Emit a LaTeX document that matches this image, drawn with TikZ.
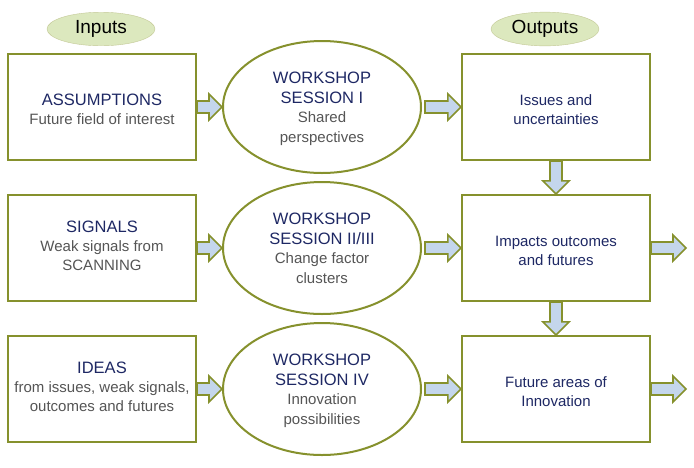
\documentclass[tikz,border=0pt]{standalone}
\usepackage{fontspec}
\setmainfont{Liberation Sans}
\usetikzlibrary{shapes.geometric,calc}
\definecolor{olv}{RGB}{134,145,45}
\definecolor{arr}{RGB}{196,214,236}
\definecolor{navy}{RGB}{30,40,100}
\definecolor{gtxt}{RGB}{85,85,85}
\definecolor{lgreen}{RGB}{220,232,190}
\tikzset{
 box/.style={draw=olv,line width=2.2pt,fill=white,minimum width=188pt,minimum height=106pt,align=center},
 ell/.style={draw=olv,line width=2pt,fill=white,ellipse,minimum width=198pt,minimum height=132pt,align=center,inner sep=0pt},
 lab/.style={ellipse,draw=olv!50,fill=lgreen,minimum width=108pt,minimum height=30pt,font=\fontsize{19}{21}\selectfont},
 fat/.style={draw=olv,line width=1.6pt,fill=arr,line join=miter}
}
\newcommand{\TT}[1]{{\fontsize{16.5}{19}\selectfont\color{navy}#1}}
\newcommand{\SB}[1]{{\fontsize{15}{19}\selectfont\color{gtxt}#1}}
\newcommand{\RT}[1]{{\fontsize{15}{19}\selectfont\color{navy}#1}}
\newcommand{\harr}[2]{%
 \path (#1) coordinate (s) (#2) coordinate (e);
 \draw[fat] ($(s)+(0,-6)$) -- ($(e)+(-13,-6)$) -- ($(e)+(-13,-13)$) -- (e) -- ($(e)+(-13,13)$) -- ($(e)+(-13,6)$) -- ($(s)+(0,6)$) -- cycle;}
\newcommand{\varr}[2]{%
 \path (#1) coordinate (s) (#2) coordinate (e);
 \draw[fat] ($(s)+(-6,0)$) -- ($(e)+(-6,-13)$) -- ($(e)+(-13,-13)$) -- (e) -- ($(e)+(13,-13)$) -- ($(e)+(6,-13)$) -- ($(s)+(6,0)$) -- cycle;}
\begin{document}
\begin{tikzpicture}[x=1pt,y=-1pt]
\useasboundingbox (0,0) rectangle (694,467);
\node[lab] (in) at (101,29) {Inputs};
\node[lab] (out) at (545,29) {Outputs};
\foreach \i/\y in {1/107,2/248,3/389}{
 \node[box] (L\i) at (102,\y) {};
 \node[box] (R\i) at (556,\y) {};
 \node[ell] (E\i) at (322,\y) {};
}
\node (t1) at ($(L1)+(0,4)$) {\fontsize{15}{19.5}\selectfont\begin{tabular}{@{}c@{}}\TT{ASSUMPTIONS}\\\SB{Future field of interest}\end{tabular}};
\node (t2) at ($(L2)+(0,0)$) {\fontsize{15}{19}\selectfont\begin{tabular}{@{}c@{}}\TT{SIGNALS}\\\SB{Weak signals from}\\\SB{SCANNING}\end{tabular}};
\node (t3) at ($(L3)+(0,0)$) {\fontsize{15}{19}\selectfont\begin{tabular}{@{}c@{}}\TT{IDEAS}\\\SB{from issues, weak signals,}\\\SB{outcomes and futures}\end{tabular}};
\node (e1) at ($(E1)+(0,2)$) {\fontsize{15}{19.5}\selectfont\begin{tabular}{@{}c@{}}\TT{WORKSHOP}\\\TT{SESSION I}\\\SB{Shared}\\\SB{perspectives}\end{tabular}};
\node (e2) at ($(E2)+(0,2)$) {\fontsize{15}{19.5}\selectfont\begin{tabular}{@{}c@{}}\TT{WORKSHOP}\\\TT{SESSION II/III}\\\SB{Change factor}\\\SB{clusters}\end{tabular}};
\node (e3) at ($(E3)+(0,2)$) {\fontsize{15}{19.5}\selectfont\begin{tabular}{@{}c@{}}\TT{WORKSHOP}\\\TT{SESSION IV}\\\SB{Innovation}\\\SB{possibilities}\end{tabular}};
\node (r1) at ($(R1)+(0,4)$) {\fontsize{15}{19.5}\selectfont\begin{tabular}{@{}c@{}}\RT{Issues and}\\\RT{uncertainties}\end{tabular}};
\node (r2) at ($(R2)+(0,4)$) {\fontsize{15}{19.5}\selectfont\begin{tabular}{@{}c@{}}\RT{Impacts outcomes}\\\RT{and futures}\end{tabular}};
\node (r3) at ($(R3)+(0,4)$) {\fontsize{15}{19.5}\selectfont\begin{tabular}{@{}c@{}}\RT{Future areas of}\\\RT{Innovation}\end{tabular}};
\coordinate (o2) at (686,248);
\coordinate (o3) at (686,389);
\foreach \i in {1,2,3}{
 \harr{L\i.east}{E\i.west}
 \harr{$(E\i.east)+(3,0)$}{R\i.west}
}
\harr{R2.east}{o2}
\harr{R3.east}{o3}
\varr{R1.south}{R2.north}
\varr{R2.south}{R3.north}
\end{tikzpicture}
\end{document}
